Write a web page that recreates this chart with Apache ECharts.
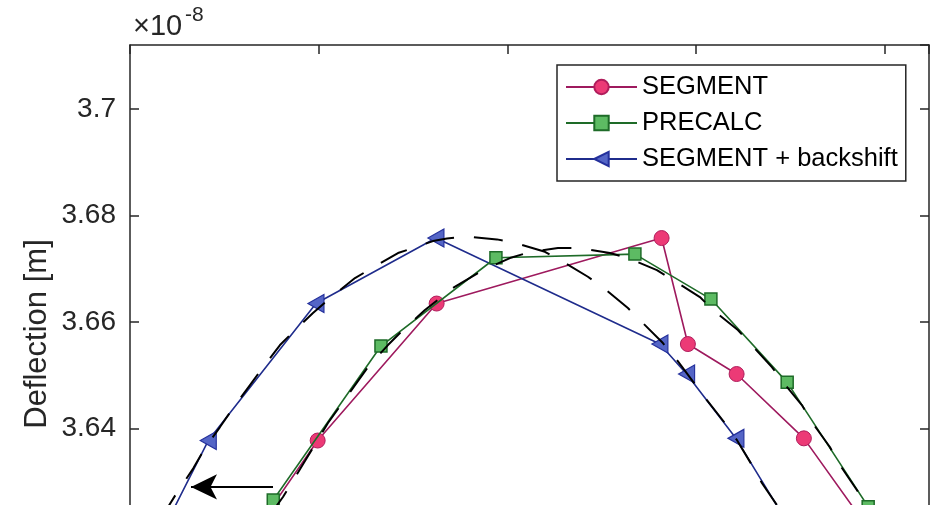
<!DOCTYPE html>
<html><head><meta charset="utf-8">
<script src="https://cdn.jsdelivr.net/npm/echarts@6/dist/echarts.min.js"></script>
<style>html,body{margin:0;padding:0;background:#fff;}#c{width:934px;height:505px;}</style>
</head><body><div id="c"></div>
<script>
// ---- data (y values in units of 1e-8 m) ----
const seriesNames = ['SEGMENT', 'PRECALC', 'SEGMENT + backshift'];
const segmentX = [0.6306, 0.9947, 1.6253, 2.8177, 2.9571, 3.2152, 3.5718, 3.957];
const segmentY = [3.61902, 3.63771, 3.66344, 3.67574, 3.65583, 3.65020, 3.63812, 3.61902];
const precalcX = [0.530, 0.7594, 1.3302, 1.9396, 2.6762, 3.0790, 3.4833, 3.9126, 4.081];
const precalcY = [3.61151, 3.62654, 3.65546, 3.67204, 3.67273, 3.66428, 3.64864, 3.62528, 3.61527];
const backshiftX = [0.1484, 0.4149, 0.9857, 1.6216, 2.8087, 2.9502, 3.2115, 3.540];
const backshiftY = [3.61902, 3.63771, 3.66344, 3.67574, 3.65583, 3.65020, 3.63812, 3.61902];
// dashed reference curves
const refX = [0.7419, 0.8108, 0.9274, 1.0493, 1.1553, 1.2613, 1.3673, 1.4467, 1.5633, 1.7117, 1.8707, 2.0138, 2.1198, 2.2682, 2.3847, 2.5437, 2.6391, 2.7928, 2.8776, 3.0207, 3.0896, 3.2220, 3.2856, 3.4022, 3.4605, 3.5612, 3.6142, 3.7096, 3.7626, 3.8527, 3.9322];
const refY = [3.62372, 3.62710, 3.63386, 3.64100, 3.64625, 3.65151, 3.65564, 3.65846, 3.66222, 3.66635, 3.66973, 3.67198, 3.67311, 3.67386, 3.67386, 3.67292, 3.67198, 3.66973, 3.66785, 3.66466, 3.66222, 3.65846, 3.65602, 3.65151, 3.64869, 3.64438, 3.64118, 3.63649, 3.63311, 3.62841, 3.62372];
const refShiftX = [0.1590, 0.2475, 0.3355, 0.3975, 0.4770, 0.5390, 0.6359, 0.6979, 0.7949, 0.8744, 0.9698, 1.0599, 1.1924, 1.2825, 1.4203, 1.5209, 1.6057, 1.6799, 1.7859, 1.9449, 2.0509, 2.1993, 2.2946, 2.4271, 2.5172, 2.6391, 2.7133, 2.8246, 2.8988, 2.9783, 3.0578, 3.1532, 3.2167, 3.2962, 3.3492, 3.4287, 3.4870];
const refShiftY = [3.62278, 3.62785, 3.63249, 3.63630, 3.64024, 3.64344, 3.64813, 3.65114, 3.65564, 3.65846, 3.66165, 3.66447, 3.66822, 3.67010, 3.67292, 3.67410, 3.67517, 3.67564, 3.67602, 3.67549, 3.67474, 3.67316, 3.67129, 3.66847, 3.66616, 3.66259, 3.65996, 3.65602, 3.65283, 3.64907, 3.64531, 3.64100, 3.63780, 3.63311, 3.62973, 3.62560, 3.62240];
// arrow annotation (data coords)
const arrowX = [0.758, 0.3233];
const arrowY = 3.629;
// axes
const xRange = [0, 4.235];
const yRange = [3.60, 3.712];
const yStep = 0.02;

const zip = (a, b) => a.map((v, i) => [v, b[i]]);
const FONT = 'Liberation Sans, Arial, Helvetica, sans-serif';
const AX = '#262626';

const axisCommon = {
  axisLine: { show: true, onZero: false, lineStyle: { color: AX, width: 1.5 } },
  axisTick: { show: true, inside: true, length: 9, lineStyle: { color: AX, width: 1.5 } },
  splitLine: { show: false }
};

const chart = echarts.init(document.getElementById('c'), null, { renderer: 'canvas' });
chart.setOption({
  animation: false,
  backgroundColor: '#fff',
  grid: { left: 130, top: 45, width: 799, height: 596.3, containLabel: false, outerBoundsMode: 'none' },
  xAxis: [
    Object.assign({ type: 'value', min: xRange[0], max: xRange[1], interval: 1, position: 'bottom', axisLabel: { show: false } }, axisCommon),
    Object.assign({ type: 'value', min: xRange[0], max: xRange[1], interval: 1, position: 'top', axisLabel: { show: false } }, axisCommon)
  ],
  yAxis: [
    Object.assign({ type: 'value', min: yRange[0], max: yRange[1], interval: yStep, position: 'left',
      axisLabel: { show: true, fontSize: 28, color: AX, fontFamily: FONT, margin: 14, showMaxLabel: false } }, axisCommon),
    Object.assign({ type: 'value', min: yRange[0], max: yRange[1], interval: yStep, position: 'right', axisLabel: { show: false } }, axisCommon)
  ],
  legend: {
    data: seriesNames,
    orient: 'vertical',
    left: 557, top: 65,
    padding: [9, 8, 9, 8],
    itemGap: 10,
    itemWidth: 71, itemHeight: 18,
    backgroundColor: '#fff',
    borderColor: AX, borderWidth: 1.5, borderRadius: 0,
    textStyle: { fontSize: 25.5, color: '#000', fontFamily: FONT },
    selectedMode: false
  },
  graphic: [
    { type: 'text', x: 133, y: 27, style: { text: '×10', font: '29px ' + FONT, fill: AX, align: 'left', verticalAlign: 'middle' } },
    { type: 'text', x: 185, y: 15, style: { text: '-8', font: '21px ' + FONT, fill: AX, align: 'left', verticalAlign: 'middle' } },
    { type: 'text', x: 37, y: 334, rotation: Math.PI / 2, style: { text: 'Deflection [m]', font: '31px ' + FONT, fill: AX, align: 'center', verticalAlign: 'middle' } }
  ],
  series: [
    {
      name: 'SEGMENT', type: 'line', data: zip(segmentX, segmentY), z: 2,
      symbol: 'circle', symbolSize: 15, showAllSymbol: true,
      lineStyle: { color: '#9E1A5E', width: 1.6 },
      itemStyle: { color: '#EC3A76', borderColor: '#B01D5C', borderWidth: 1 },
      emphasis: { disabled: true }
    },
    {
      name: 'PRECALC', type: 'line', data: zip(precalcX, precalcY), z: 3,
      symbol: 'rect', symbolSize: 12, showAllSymbol: true,
      lineStyle: { color: '#1E6B28', width: 1.6 },
      itemStyle: { color: '#5DBB63', borderColor: '#1E6B28', borderWidth: 1.5 },
      emphasis: { disabled: true }
    },
    {
      name: 'SEGMENT + backshift', type: 'line', data: zip(backshiftX, backshiftY), z: 2,
      symbol: 'triangle', symbolRotate: 90, symbolSize: [18, 16], showAllSymbol: true,
      lineStyle: { color: '#1F2C8C', width: 1.6 },
      itemStyle: { color: '#5465C6', borderColor: '#24309C', borderWidth: 1.2 },
      emphasis: { disabled: true }
    },
    {
      name: 'ref', type: 'line', data: zip(refX, refY), z: 6,
      symbol: 'none', lineStyle: { color: '#000', width: 2, type: [29, 20] },
      emphasis: { disabled: true }
    },
    {
      name: 'refShift', type: 'line', data: zip(refShiftX, refShiftY), z: 6,
      symbol: 'none', lineStyle: { color: '#000', width: 2, type: [29, 20] },
      emphasis: { disabled: true },
      markLine: {
        silent: true, animation: false,
        symbol: ['none', 'arrow'], symbolSize: [19, 26],
        lineStyle: { color: '#000', width: 2, type: 'solid' },
        label: { show: false },
        data: [[{ coord: [arrowX[0], arrowY] }, { coord: [arrowX[1], arrowY] }]]
      }
    }
  ]
});
</script>
</body></html>
